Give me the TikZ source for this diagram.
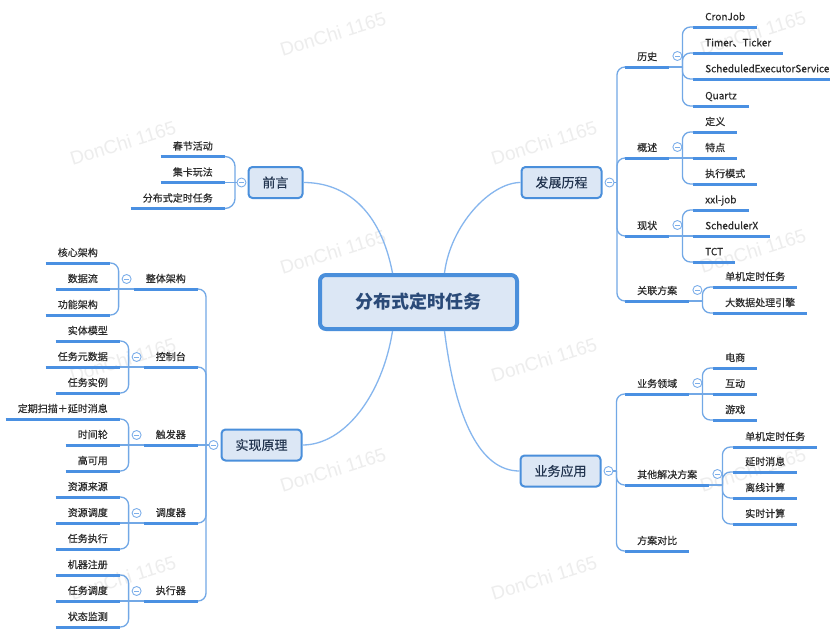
\documentclass[tikz,border=0pt]{standalone}
\usepackage{fontspec}
\newfontfamily\cjk{Noto Sans CJK SC}
\newfontfamily\cjkm[FakeBold=0.35]{Noto Sans CJK SC}
\newfontfamily\wmfont{Liberation Sans}
\usetikzlibrary{calc}
\definecolor{boxfill}{HTML}{DCE7F5}
\definecolor{boxline}{HTML}{4A8FDB}
\definecolor{uline}{HTML}{4A90E2}
\definecolor{conn}{HTML}{86B6EE}
\definecolor{brk}{HTML}{72A8E6}
\definecolor{collc}{HTML}{7DAFEA}
\definecolor{leaftext}{HTML}{2B2B2B}
\definecolor{toptext}{HTML}{22344F}
\definecolor{roottext}{HTML}{2A4A78}
\definecolor{wmc}{HTML}{EDEDED}
\newcommand\mmR[4]{\node[leaf,anchor=south west] (#1) at (#2,#3) {#4};\draw[ul] (#1.south west) -- (#1.south east);}
\newcommand\mmL[4]{\node[leaf,anchor=south east] (#1) at (#2,#3) {#4};\draw[ul] (#1.south west) -- (#1.south east);}
\newcommand\junR[1]{\node[coll] (#1-c) at ($(#1.south east)+(8,-11)$) {};\coordinate (#1-j) at ($(#1.south east)+(13,0)$);\draw[brlm] (#1.south east) -- (#1-j);}
\newcommand\junL[1]{\node[coll] (#1-c) at ($(#1.south west)+(-7,-10)$) {};\coordinate (#1-j) at ($(#1.south west)+(-15,0)$);\draw[brlm] (#1.south west) -- (#1-j);}
\newcommand\brR[2]{\draw[brl] (#1-j) |- (#2.south west);}
\newcommand\brRm[2]{\draw[brlm] (#1-j) -- (#2.south west);}
\newcommand\brL[2]{\draw[brl] (#1-j) |- (#2.south east);}
\newcommand\brLm[2]{\draw[brlm] (#1-j) -- (#2.south east);}
\begin{document}
\begin{tikzpicture}[x=1pt,y=-1pt,
  leaf/.style={font=\cjkm\fontsize{10}{12}\selectfont, text=leaftext, inner xsep=12pt, inner ysep=4pt, text height=8pt, text depth=2.5pt},
  ul/.style={draw=uline, line width=3pt},
  brl/.style={draw=brk, line width=1.3pt, rounded corners=8pt},
  brlm/.style={draw=brk, line width=1.3pt},
  mainc/.style={draw=conn, line width=1.3pt},
  topic/.style={draw=boxline, fill=boxfill, line width=2pt, rounded corners=4pt, font=\cjkm\fontsize{13}{15}\selectfont, text=toptext, inner xsep=14pt, minimum height=31pt},
  root/.style={draw=boxline, fill=boxfill, line width=4pt, rounded corners=6pt, font=\cjk\bfseries\fontsize{18}{20}\selectfont, text=roottext, minimum width=197pt, minimum height=54pt},
  coll/.style={circle, draw=collc, line width=0.9pt, fill=white, minimum size=9pt, inner sep=0pt,
    path picture={\draw[collc, line width=0.8pt] ($(path picture bounding box.center)+(-2.2,0)$) -- ($(path picture bounding box.center)+(2.2,0)$);}},
  wmk/.style={font=\wmfont\fontsize{19}{21}\selectfont, text=wmc, rotate=17}
]
\useasboundingbox[fill=white] (0,0) rectangle (830,629);
% watermarks
\node[wmk] (wm1) at (333,34) {DonChi 1165};
\node[wmk] (wm2) at (753,33) {DonChi 1165};
\node[wmk] (wm3) at (123,143) {DonChi 1165};
\node[wmk] (wm4) at (544,143) {DonChi 1165};
\node[wmk] (wm5) at (333,252) {DonChi 1165};
\node[wmk] (wm6) at (753,251) {DonChi 1165};
\node[wmk] (wm7) at (123,360) {DonChi 1165};
\node[wmk] (wm8) at (544,360) {DonChi 1165};
\node[wmk] (wm9) at (333,470) {DonChi 1165};
\node[wmk] (wm10) at (753,470) {DonChi 1165};
\node[wmk] (wm11) at (123,578) {DonChi 1165};
\node[wmk] (wm12) at (544,578) {DonChi 1165};

% root and main topics
\node[root] (root) at (418.5,302) {分布式定时任务};
\node[topic] (qy) at (275.5,182.5) {前言};
\node[topic] (fz) at (561.5,182.5) {发展历程};
\node[topic] (sx) at (261.5,445) {实现原理};
\node[topic] (yw) at (560.5,471) {业务应用};

\draw[mainc] ([xshift=-26pt]root.north) .. controls +(-12,-63) and +(42,0) .. (qy.east);
\draw[mainc] ([xshift=26pt]root.north) .. controls +(6,-48) and +(-30,0) .. (fz.west);
\draw[mainc] ([xshift=-26pt]root.south) .. controls +(-10,64) and +(42,0) .. (sx.east);
\draw[mainc] ([xshift=26pt]root.south) .. controls +(11,89) and +(-39,0) .. (yw.west);

% ---------- 前言
\node[coll] (qy-c) at ($(qy.west)+(-6,0)$) {};
\coordinate (qy-j) at ($(qy-c.west)+(-1.5,0)$);
\mmL{cj}{225}{156.5}{春节活动}
\mmL{jk}{225}{182.5}{集卡玩法}
\mmL{fb}{225}{208.5}{分布式定时任务}
\draw[brl, rounded corners=10pt] (qy-j) |- (cj.south east);
\draw[brlm] (qy-c.west) -- (jk.south east);
\draw[brl, rounded corners=10pt] (qy-j) |- (fb.south east);

% ---------- 发展历程
\node[coll] (fz-c) at ($(fz.east)+(7,0)$) {};
\coordinate (fz-j) at ($(fz-c.east)+(2.5,0)$);
\draw[brlm] (fz-c.east) -- (fz-j);
\mmR{ls}{625}{67}{历史}
\mmR{gs}{625}{158}{概述}
\mmR{xz}{625}{236}{现状}
\mmR{gl}{625}{301}{关联方案}
\brR{fz}{ls}\brR{fz}{gs}\brR{fz}{xz}\brR{fz}{gl}

\junR{ls}
\mmR{cron}{693}{27}{CronJob}
\mmR{timer}{693}{53}{Timer、Ticker}
\mmR{sched}{693}{79}{ScheduledExecutorService}
\mmR{quartz}{693}{106}{Quartz}
\brR{ls}{cron}\brR{ls}{timer}\brR{ls}{sched}\brR{ls}{quartz}

\junR{gs}
\mmR{dy}{693}{132}{定义}
\mmR{td}{693}{158}{特点}
\mmR{zx}{693}{184}{执行模式}
\brR{gs}{dy}\brRm{gs}{td}\brR{gs}{zx}

\junR{xz}
\mmR{xxl}{693}{210}{xxl-job}
\mmR{sx2}{693}{236}{SchedulerX}
\mmR{tct}{693}{262}{TCT}
\brR{xz}{xxl}\brRm{xz}{sx2}\brR{xz}{tct}

\junR{gl}
\mmR{dj}{713}{287}{单机定时任务}
\mmR{dsj}{713}{313}{大数据处理引擎}
\brR{gl}{dj}\brR{gl}{dsj}

% ---------- 业务应用
\node[coll] (yw-c) at ($(yw.east)+(7,0)$) {};
\coordinate (yw-j) at ($(yw-c.east)+(3,0)$);
\draw[brlm] (yw-c.east) -- (yw-j);
\mmR{ly}{625}{394}{业务领域}
\mmR{qt}{625}{485}{其他解决方案}
\mmR{db}{625}{551}{方案对比}
\brR{yw}{ly}\brR{yw}{qt}\brR{yw}{db}

\junR{ly}
\mmR{ds}{713}{368}{电商}
\mmR{hd}{713}{394}{互动}
\mmR{yx}{713}{420}{游戏}
\brR{ly}{ds}\brRm{ly}{hd}\brR{ly}{yx}

\junR{qt}
\mmR{dj2}{733}{447}{单机定时任务}
\mmR{ys}{733}{472}{延时消息}
\mmR{lx}{733}{498}{离线计算}
\mmR{ss}{733}{524}{实时计算}
\brR{qt}{dj2}\brR{qt}{ys}\brR{qt}{lx}\brR{qt}{ss}

% ---------- 实现原理
\node[coll] (sx-c) at ($(sx.west)+(-7,0)$) {};
\coordinate (sx-j) at ($(sx-c.west)+(-2.5,0)$);
\draw[brlm] (sx-c.west) -- (sx-j);
\mmL{zt}{198}{289}{整体架构}
\mmL{kz}{198}{367}{控制台}
\mmL{cf}{198}{445}{触发器}
\mmL{dd}{198}{523}{调度器}
\mmL{zxq}{198}{601}{执行器}
\brL{sx}{zt}\brL{sx}{kz}\brLm{sx}{cf}\brL{sx}{dd}\brL{sx}{zxq}

\junL{zt}
\mmL{hx}{110}{263}{核心架构}
\mmL{sjl}{110}{289}{数据流}
\mmL{gn}{110}{315}{功能架构}
\brL{zt}{hx}\brLm{zt}{sjl}\brL{zt}{gn}

\junL{kz}
\mmL{st}{120}{341}{实体模型}
\mmL{rw}{120}{367}{任务元数据}
\mmL{sl}{120}{393}{任务实例}
\brL{kz}{st}\brLm{kz}{rw}\brL{kz}{sl}

\junL{cf}
\mmL{dq}{120}{419}{定期扫描＋延时消息}
\mmL{sjn}{120}{445}{时间轮}
\mmL{gk}{120}{471}{高可用}
\brL{cf}{dq}\brLm{cf}{sjn}\brL{cf}{gk}

\junL{dd}
\mmL{ly2}{120}{497}{资源来源}
\mmL{zd}{120}{523}{资源调度}
\mmL{rz}{120}{549}{任务执行}
\brL{dd}{ly2}\brLm{dd}{zd}\brL{dd}{rz}

\junL{zxq}
\mmL{jq}{120}{575}{机器注册}
\mmL{rd}{120}{601}{任务调度}
\mmL{zj}{120}{627}{状态监测}
\brL{zxq}{jq}\brLm{zxq}{rd}\brL{zxq}{zj}
\end{tikzpicture}
\end{document}
